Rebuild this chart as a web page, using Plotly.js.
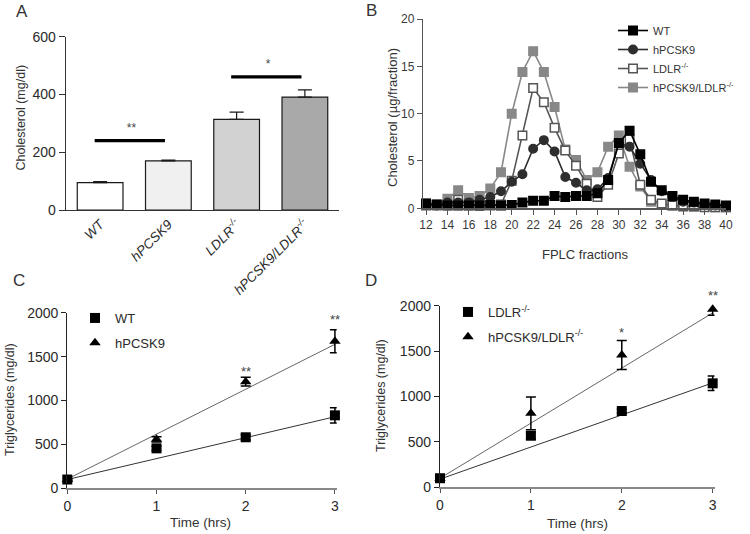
<!DOCTYPE html>
<html><head><meta charset="utf-8">
<script src="https://cdn.plot.ly/plotly-3.0.1.min.js"></script>
<style>html,body{margin:0;padding:0;background:#fff}#chart{width:750px;height:534px}</style>
</head><body><div id="chart"></div>
<script>
// ---------- Panel A : plasma cholesterol ----------
const groupsA = ['WT', 'hPCSK9', 'LDLR-/-', 'hPCSK9/LDLR-/-'];
const groupTicksA = ['<i>WT</i>', '<i>hPCSK9</i>', '<i>LDLR<sup>-/-</sup></i>', '<i>hPCSK9/LDLR<sup>-/-</sup></i>'];
const cholesterolA = [95, 170, 314, 391];
const cholesterolErrA = [3, 3, 25, 25];
const sigFromA = [0, 2];
const sigToA = [1, 3];
const sigLevelA = [240, 461];
const sigStarLevelA = [282, 503];
const sigTextA = ['**', '*'];

// ---------- Panel B : FPLC profiles ----------
const fractions = [12,13,14,15,16,17,18,19,20,21,22,23,24,25,26,27,28,29,30,31,32,33,34,35,36,37,38,39,40];
const fplcWT     = [0.5,0.4,0.3,0.3,0.3,0.3,0.35,0.3,0.35,0.6,0.8,0.8,1.3,1.2,1.3,1.3,1.6,3.0,6.9,8.2,5.7,2.8,1.9,1.3,0.9,0.7,0.5,0.4,0.3];
const fplcPCSK9  = [0.4,0.3,0.6,0.6,0.6,0.9,1.2,1.8,2.8,3.6,6.3,7.2,6.0,3.3,2.7,1.9,2.0,3.2,6.9,6.5,4.7,3.0,1.8,1.2,0.7,0.6,0.4,0.3,0.25];
const fplcLDLR   = [0.3,0.3,0.4,0.9,0.5,0.3,0.3,0.4,2.9,7.7,12.7,11.2,8.5,6.1,4.5,2.6,1.2,2.5,5.8,7.3,2.5,0.9,0.5,0.3,0.2,0.2,0.1,0.1,0.1];
const fplcDouble = [0.5,0.4,1.0,1.9,1.1,1.3,2.1,3.8,10.0,14.4,16.6,14.4,10.7,6.2,5.1,3.0,3.8,6.5,7.7,4.4,2.3,0.7,0.4,0.3,0.3,0.2,0.2,0.1,0.1];
const seriesNamesB = ['WT', 'hPCSK9', 'LDLR<sup>-/-</sup>', 'hPCSK9/LDLR<sup>-/-</sup>'];

// ---------- Panel C : TG secretion, WT vs hPCSK9 ----------
const timesHrs = [0, 1, 2, 3];
const tgWT = [100, 455, 581, 831];
const tgWTErr = [10, 25, 30, 87];
const tgPCSK9 = [100, 558, 1214, 1675];
const tgPCSK9Err = [10, 30, 50, 130];
const fitTimes = [0, 3];
const fitWT = [100, 815];
const fitPCSK9 = [105, 1640];
const starTimesC = [2, 3];
const starLevelsC = [1335, 1925];
const starTextC = ['**', '**'];

// ---------- Panel D : TG secretion, LDLR-/- vs hPCSK9/LDLR-/- ----------
const tgLDLR = [100, 568, 840, 1145];
const tgLDLRErr = [10, 40, 20, 80];
const tgDouble = [100, 815, 1457, 1960];
const tgDoubleErr = [10, 180, 160, 65];
const fitLDLR = [90, 1150];
const fitDouble = [100, 1920];
const starTimesD = [2, 3];
const starLevelsD = [1700, 2110];
const starTextD = ['*', '**'];

const TG_MAX = 2000;
const FONT = 'Liberation Sans, Arial, sans-serif';
const TXT = '#2a2a2a';
const W = 750, H = 534;
const px = v => v / W;
const py = v => 1 - v / H;

const traces = [];

// Panel A bars
traces.push({
  type: 'bar', x: groupsA.map((g, i) => i), y: cholesterolA, width: 0.67,
  marker: {color: ['#ffffff', '#f0f0f0', '#d2d2d2', '#a9a9a9'], line: {color: '#1a1a1a', width: 1.2}},
  error_y: {type: 'data', symmetric: false, array: cholesterolErrA, arrayminus: cholesterolErrA.map(() => 0),
            color: '#1a1a1a', thickness: 1.2, width: 7},
  xaxis: 'x', yaxis: 'y', showlegend: false, hoverinfo: 'skip'
});
sigFromA.forEach((a, i) => {
  traces.push({
    type: 'scatter', mode: 'lines', x: [a - 0.08, sigToA[i] - 0.05], y: [sigLevelA[i], sigLevelA[i]],
    line: {color: '#000', width: 3.2}, xaxis: 'x', yaxis: 'y', showlegend: false, hoverinfo: 'skip'
  });
});
traces.push({
  type: 'scatter', mode: 'text', x: sigFromA.map((a, i) => (a + sigToA[i]) / 2 - 0.04), y: sigStarLevelA,
  text: sigTextA, textfont: {family: FONT, size: 12, color: '#444'}, textposition: 'middle center',
  xaxis: 'x', yaxis: 'y', showlegend: false, hoverinfo: 'skip', cliponaxis: false
});

// Panel B lines (drawn back-to-front, legend reversed)
const bStyles = [
  {name: seriesNamesB[3], y: fplcDouble, line: '#888', sym: 'square', fill: '#888', mline: '#888'},
  {name: seriesNamesB[2], y: fplcLDLR, line: '#555', sym: 'square', fill: '#ffffff', mline: '#555'},
  {name: seriesNamesB[1], y: fplcPCSK9, line: '#2e2e2e', sym: 'circle', fill: '#2e2e2e', mline: '#2e2e2e'},
  {name: seriesNamesB[0], y: fplcWT, line: '#000', sym: 'square', fill: '#000', mline: '#000'}
];
bStyles.forEach(s => traces.push({
  type: 'scatter', mode: 'lines+markers', name: s.name, x: fractions, y: s.y,
  line: {color: s.line, width: 1.6},
  marker: {symbol: s.sym, size: 8.5, color: s.fill, line: {color: s.mline, width: 1.5}},
  xaxis: 'x2', yaxis: 'y2', legend: 'legend', cliponaxis: false, hoverinfo: 'skip'
}));

// Panel C
traces.push({type: 'scatter', mode: 'lines', x: fitTimes, y: fitWT, line: {color: '#333', width: 1},
  xaxis: 'x3', yaxis: 'y3', showlegend: false, hoverinfo: 'skip'});
traces.push({type: 'scatter', mode: 'lines', x: fitTimes, y: fitPCSK9, line: {color: '#666', width: 1},
  xaxis: 'x3', yaxis: 'y3', showlegend: false, hoverinfo: 'skip'});
traces.push({type: 'scatter', mode: 'markers', name: 'WT', x: timesHrs, y: tgWT,
  marker: {symbol: 'square', size: 10, color: '#000'},
  error_y: {type: 'data', array: tgWTErr, color: '#000', thickness: 1.5, width: 5},
  xaxis: 'x3', yaxis: 'y3', legend: 'legend2', legendgroup: 'c1', cliponaxis: false, hoverinfo: 'skip'});
traces.push({type: 'scatter', mode: 'markers', name: 'hPCSK9', x: timesHrs, y: tgPCSK9,
  marker: {symbol: 'triangle-up', size: 10, color: '#000'},
  error_y: {type: 'data', array: tgPCSK9Err, color: '#000', thickness: 1.5, width: 5},
  xaxis: 'x3', yaxis: 'y3', legend: 'legend2', legendgroup: 'c2', cliponaxis: false, hoverinfo: 'skip'});

// Panel D
traces.push({type: 'scatter', mode: 'lines', x: fitTimes, y: fitLDLR, line: {color: '#333', width: 1},
  xaxis: 'x4', yaxis: 'y4', showlegend: false, hoverinfo: 'skip'});
traces.push({type: 'scatter', mode: 'lines', x: fitTimes, y: fitDouble, line: {color: '#666', width: 1},
  xaxis: 'x4', yaxis: 'y4', showlegend: false, hoverinfo: 'skip'});
traces.push({type: 'scatter', mode: 'markers', name: 'LDLR<sup>-/-</sup>', x: timesHrs, y: tgLDLR,
  marker: {symbol: 'square', size: 10, color: '#000'},
  error_y: {type: 'data', array: tgLDLRErr, color: '#000', thickness: 1.5, width: 5},
  xaxis: 'x4', yaxis: 'y4', legend: 'legend3', legendgroup: 'd1', cliponaxis: false, hoverinfo: 'skip'});
traces.push({type: 'scatter', mode: 'markers', name: 'hPCSK9/LDLR<sup>-/-</sup>', x: timesHrs, y: tgDouble,
  marker: {symbol: 'triangle-up', size: 10, color: '#000'},
  error_y: {type: 'data', array: tgDoubleErr, color: '#000', thickness: 1.5, width: 5},
  xaxis: 'x4', yaxis: 'y4', legend: 'legend3', legendgroup: 'd2', cliponaxis: false, hoverinfo: 'skip'});

const baseAx = {showgrid: false, zeroline: false, showline: true, fixedrange: true};

function paperText(text, x, y, size, angle) {
  return {text: text, x: px(x), y: py(y), xref: 'paper', yref: 'paper', xanchor: 'center', yanchor: 'middle',
          showarrow: false, textangle: angle || 0, font: {size: size, color: '#333'}};
}
function starNotes(times, levels, texts, xr, yr) {
  return times.map((t, i) => ({text: texts[i], x: t, y: levels[i] / TG_MAX, xref: xr, yref: yr + ' domain',
    xanchor: 'center', yanchor: 'middle', showarrow: false, font: {size: 13, color: '#444'}}));
}

const layout = {
  width: W, height: H, margin: {l: 0, r: 0, t: 0, b: 0},
  paper_bgcolor: '#fff', plot_bgcolor: 'rgba(0,0,0,0)',
  font: {family: FONT, color: TXT},
  xaxis: Object.assign({}, baseAx, {domain: [px(66), px(339)], range: [-0.5, 3.5], anchor: 'y',
    tickvals: [0, 1, 2, 3], ticktext: groupTicksA, tickangle: -45, ticks: '',
    linecolor: '#333', linewidth: 1.3, tickfont: {size: 13.5, color: TXT}}),
  yaxis: Object.assign({}, baseAx, {domain: [py(210), py(36.7)], range: [0, 600], anchor: 'x',
    tickvals: [0, 200, 400, 600], ticks: 'outside', ticklen: 6, tickcolor: '#333',
    linecolor: '#333', linewidth: 1.3, tickfont: {size: 14, color: TXT}}),
  xaxis2: Object.assign({}, baseAx, {domain: [px(423), px(726)], range: [11.72, 40], anchor: 'y2',
    tick0: 12, dtick: 2, ticks: 'outside', ticklen: 5, tickcolor: '#555',
    linecolor: '#555', linewidth: 1.2, tickfont: {size: 12, color: '#3a3a3a'}}),
  yaxis2: Object.assign({}, baseAx, {domain: [py(208.3), py(19)], range: [0, 20], anchor: 'x2',
    tickvals: [0, 5, 10, 15, 20], ticks: 'outside', ticklen: 5, tickcolor: '#555',
    linecolor: '#555', linewidth: 1.2, tickfont: {size: 12, color: '#3a3a3a'}}),
  xaxis3: Object.assign({}, baseAx, {domain: [px(67.3), px(336.7)], range: [0, 3.02], anchor: 'y3',
    tickvals: [0, 1, 2, 3], ticks: 'outside', ticklen: 4, tickcolor: '#555',
    linecolor: '#888', linewidth: 2, tickfont: {size: 14, color: TXT}}),
  yaxis3: Object.assign({}, baseAx, {domain: [py(488.3), py(312.7)], range: [0, TG_MAX], anchor: 'x3',
    tickvals: [0, 500, 1000, 1500, 2000], ticks: 'outside', ticklen: 5, tickcolor: '#222',
    linecolor: '#222', linewidth: 1.2, tickfont: {size: 14, color: TXT}}),
  xaxis4: Object.assign({}, baseAx, {domain: [px(440), px(714.5)], range: [0, 3.02], anchor: 'y4',
    tickvals: [0, 1, 2, 3], ticks: 'outside', ticklen: 4, tickcolor: '#555',
    linecolor: '#888', linewidth: 2, tickfont: {size: 14, color: TXT}}),
  yaxis4: Object.assign({}, baseAx, {domain: [py(487.3), py(305.7)], range: [0, TG_MAX], anchor: 'x4',
    tickvals: [0, 500, 1000, 1500, 2000], ticks: 'outside', ticklen: 5, tickcolor: '#222',
    linecolor: '#222', linewidth: 1.2, tickfont: {size: 14, color: TXT}}),
  legend: {x: px(613), y: py(16), xanchor: 'left', yanchor: 'top', traceorder: 'reversed',
    font: {size: 11, color: '#333'}, bgcolor: 'rgba(0,0,0,0)', borderwidth: 0,
    tracegroupgap: 0},
  legend2: {x: px(75), y: py(303), xanchor: 'left', yanchor: 'top', traceorder: 'grouped',
    tracegroupgap: 5, font: {size: 13, color: TXT}, bgcolor: 'rgba(0,0,0,0)', borderwidth: 0},
  legend3: {x: px(448), y: py(297), xanchor: 'left', yanchor: 'top', traceorder: 'grouped',
    tracegroupgap: 5, font: {size: 13, color: TXT}, bgcolor: 'rgba(0,0,0,0)', borderwidth: 0},
  annotations: [
    paperText('A', 21.5, 11, 17),
    paperText('B', 371, 10, 17),
    paperText('C', 19, 280, 17),
    paperText('D', 371, 280, 17),
    paperText('Cholesterol (mg/dl)', 20.5, 118, 12.5, -90),
    paperText('Cholesterol (µg/fraction)', 393, 118, 13, -90),
    paperText('FPLC fractions', 585, 255, 13),
    paperText('Triglycerides (mg/dl)', 10, 400, 12.5, -90),
    paperText('Triglycerides (mg/dl)', 381, 396, 12.5, -90),
    paperText('Time (hrs)', 200, 522, 13.5),
    paperText('Time (hrs)', 577, 523, 13.5)
  ].concat(starNotes(starTimesC, starLevelsC, starTextC, 'x3', 'y3'))
   .concat(starNotes(starTimesD, starLevelsD, starTextD, 'x4', 'y4'))
};

Plotly.newPlot('chart', traces, layout, {displayModeBar: false, staticPlot: true});
</script></body></html>
